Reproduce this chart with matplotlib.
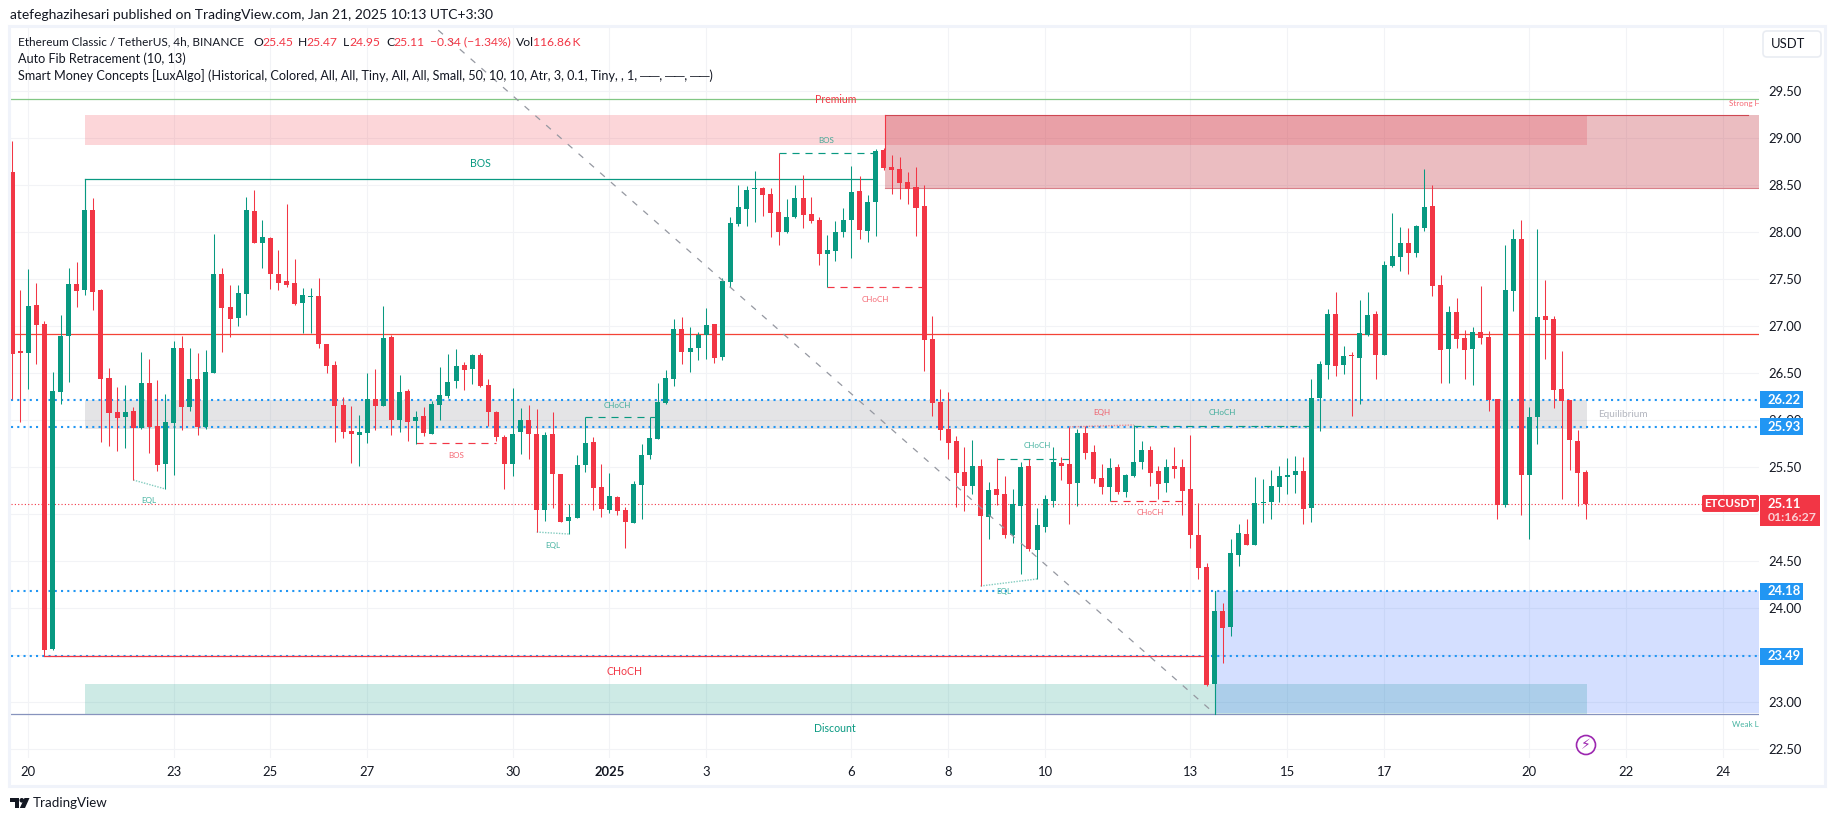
import matplotlib
matplotlib.use("Agg")
import matplotlib.pyplot as plt
from matplotlib.patches import Rectangle, FancyBboxPatch, Circle, Polygon
import numpy as np

plt.rcParams['font.family'] = ['Lato', 'DejaVu Sans']

GREEN = '#089981'
RED = '#F23645'
BLUE = '#2196F3'
INK = '#131722'

# 4h candles, first one is two bars before the "20" tick
first_bar = -2
opens = [
    28.64,26.74,26.72,27.23,27.02,23.57,26.30,26.90,27.45,27.39,
    28.24,27.39,26.45,26.09,26.04,26.10,25.92,26.40,25.94,25.54,
    25.97,26.77,26.14,26.44,25.93,26.50,27.56,27.21,27.09,27.34,
    28.23,27.89,27.94,27.56,27.48,27.46,27.25,27.31,27.32,26.81,
    26.59,26.16,25.89,25.84,25.87,26.23,26.15,26.89,26.00,26.31,
    25.99,26.05,25.85,26.16,26.26,26.42,26.59,26.55,26.69,26.38,
    26.09,25.82,25.54,25.88,26.00,25.85,25.05,25.85,25.43,24.93,
    24.96,25.52,25.77,25.29,25.05,25.18,25.05,24.91,25.31,25.63,
    25.80,26.18,26.44,26.97,26.73,26.77,26.91,27.02,26.67,27.47,
    28.09,28.25,28.46,28.47,28.41,28.22,28.00,28.16,28.37,28.19,
    28.13,27.77,27.80,28.00,28.13,28.44,28.01,28.32,28.88,28.69,
    28.67,28.54,28.48,28.28,26.87,26.19,25.91,25.78,25.45,25.30,
    25.51,24.97,25.27,25.22,24.78,25.09,25.51,24.62,24.87,25.14,
    25.55,25.53,25.33,25.87,25.66,25.39,25.29,25.50,25.24,25.41,
    25.56,25.68,25.46,25.33,25.51,25.50,25.27,24.78,24.44,23.20,
    23.97,23.80,24.57,24.79,24.67,25.12,25.13,25.29,25.40,25.42,
    25.46,25.07,26.24,26.59,27.13,26.59,26.70,26.66,26.91,27.13,
    26.70,27.64,27.74,27.89,27.78,28.05,28.28,27.44,26.76,27.15,
    26.88,26.76,26.94,26.89,26.23,25.10,27.38,27.93,25.42,26.03,
    27.11,27.08,26.33,26.22,25.78,25.45]
highs = [
    28.97,27.39,27.61,27.46,27.06,26.51,27.12,27.62,27.68,28.56,
    28.37,27.40,26.56,26.35,26.38,26.14,26.73,26.65,26.43,26.28,
    26.84,26.90,26.77,26.72,26.75,27.98,27.62,27.44,27.44,28.38,
    28.45,28.13,27.95,27.81,28.30,27.72,27.41,27.41,27.51,26.81,
    26.63,26.25,26.15,26.06,26.50,26.55,27.22,26.91,26.48,26.33,
    26.10,26.14,26.21,26.57,26.71,26.76,26.62,26.71,26.72,26.44,
    26.10,25.84,26.34,26.13,26.16,26.12,25.88,26.09,25.43,25.11,
    25.63,26.04,25.82,25.54,25.44,25.19,25.08,25.35,25.75,26.04,
    26.40,26.54,27.08,27.10,26.99,26.94,27.19,27.02,27.51,28.16,
    28.50,28.49,28.65,28.48,28.47,28.84,28.35,28.50,28.61,28.38,
    28.16,27.97,28.12,28.26,28.71,28.60,28.40,28.89,28.90,28.82,
    28.80,28.64,28.69,28.50,27.11,26.33,26.30,25.83,25.72,25.79,
    25.59,25.34,25.60,25.41,25.27,25.56,25.59,25.07,25.21,25.72,
    25.61,25.93,25.91,25.94,25.74,25.54,25.60,25.54,25.43,25.95,
    25.78,25.73,25.51,25.59,25.72,25.59,25.84,25.12,24.48,24.17,
    24.06,24.74,24.90,24.95,25.40,25.38,25.47,25.51,25.60,25.62,
    25.61,26.44,26.63,27.18,27.36,26.79,26.73,27.28,27.36,27.16,
    27.70,28.21,28.06,28.05,28.08,28.67,28.50,27.55,27.22,27.30,
    26.96,26.99,27.43,26.95,26.23,27.87,28.04,28.13,26.14,28.03,
    27.49,27.11,26.74,26.22,25.90,25.47]
lows = [
    26.23,25.98,26.33,26.60,23.49,23.56,26.17,26.41,27.21,27.33,
    27.17,25.77,25.73,25.67,25.71,25.37,25.91,25.65,25.46,25.27,
    25.42,25.90,26.10,25.84,25.91,26.50,26.73,26.89,27.00,27.12,
    27.89,27.62,27.40,27.39,27.42,27.23,26.93,26.93,26.77,26.50,
    25.77,25.81,25.55,25.51,25.76,25.90,26.15,25.84,25.88,25.78,
    25.75,25.83,25.85,26.00,26.24,26.34,26.32,26.39,26.35,25.94,
    25.78,25.27,25.41,25.64,25.59,24.81,24.93,25.07,24.92,24.79,
    24.96,25.45,25.05,24.97,25.01,24.99,24.64,24.91,24.95,25.59,
    25.80,26.17,26.37,26.60,26.51,26.64,26.65,26.61,26.64,27.42,
    28.07,28.07,28.11,28.17,27.95,27.87,27.99,28.15,28.05,28.10,
    27.65,27.42,27.69,27.95,27.73,27.93,27.90,27.96,28.66,28.41,
    28.35,28.30,27.96,26.52,26.05,25.79,25.59,25.08,25.04,25.22,
    24.24,24.74,25.10,24.75,24.70,24.36,24.61,24.31,24.81,25.08,
    25.37,24.90,25.09,25.59,25.33,25.22,25.14,25.22,25.18,25.40,
    25.48,25.30,25.16,25.24,25.39,24.99,24.64,24.31,23.17,22.88,
    23.42,23.71,24.45,24.67,24.67,24.91,24.95,25.13,25.22,25.23,
    24.90,24.92,25.89,26.44,26.47,26.49,26.05,26.17,26.90,26.44,
    26.70,27.63,27.59,27.56,27.74,28.01,27.32,26.40,26.40,26.77,
    26.44,26.38,26.81,26.10,24.95,25.08,27.16,24.99,24.74,25.75,
    26.65,26.13,25.16,25.47,25.09,24.95]
closes = [
    26.71,26.72,27.22,27.01,23.56,26.31,26.90,27.45,27.38,28.24,
    27.37,26.44,26.08,26.02,26.09,25.92,26.40,25.93,25.52,25.98,
    26.77,26.14,26.44,25.93,26.51,27.56,27.19,27.08,27.35,28.24,
    27.89,27.95,27.56,27.46,27.44,27.24,27.33,27.32,26.81,26.58,
    26.15,25.88,25.85,25.88,26.23,26.15,26.88,26.00,26.30,25.98,
    26.04,25.87,26.17,26.27,26.41,26.58,26.54,26.69,26.37,26.09,
    25.82,25.54,25.85,26.00,25.85,25.05,25.84,25.43,24.92,24.97,
    25.52,25.76,25.28,25.06,25.19,25.04,24.92,25.32,25.63,25.81,
    26.19,26.45,26.97,26.73,26.77,26.91,27.01,26.66,27.48,28.10,
    28.27,28.45,28.47,28.40,28.21,28.00,28.16,28.37,28.18,28.12,
    27.77,27.81,28.00,28.13,28.43,28.02,28.32,28.87,28.68,28.66,
    28.52,28.46,28.26,26.85,26.18,25.90,25.76,25.44,25.30,25.51,
    24.98,25.26,25.21,24.78,25.11,25.50,24.63,24.89,25.16,25.56,
    25.51,25.32,25.86,25.65,25.38,25.29,25.49,25.24,25.42,25.56,
    25.68,25.44,25.32,25.50,25.48,25.25,24.78,24.43,23.18,23.97,
    23.79,24.59,24.80,24.67,25.12,25.13,25.30,25.41,25.42,25.46,
    25.06,26.24,26.60,27.13,26.58,26.68,26.68,26.93,27.12,26.70,
    27.65,27.75,27.89,27.78,28.07,28.27,27.43,26.75,27.15,26.87,
    26.75,26.94,26.88,26.22,25.10,27.39,27.93,25.42,26.04,27.10,
    27.07,26.32,26.21,25.79,25.44,25.11]

# time axis: bar index of each labelled day
day_bars = [0, 18, 30, 42, 60, 72, 84, 102, 114, 126, 144, 156, 168, 186, 198, 210]
day_labels = ['20', '23', '25', '27', '30', '2025', '3', '6', '8', '10', '13', '15', '17', '20', '22', '24']
price_ticks = [22.5, 23, 23.5, 24, 24.5, 25, 25.5, 26, 26.5, 27, 27.5, 28, 28.5, 29, 29.5]

# levels
fib_levels = [26.22, 25.93, 24.18, 23.49]
last_price = 25.11
red_level = 26.915
premium_level = 29.415
weak_low = 22.876
bos_level = 28.563
choch_level = 23.49

# zones: bar from, bar to, price top, price bottom
premium_zone = (7, 193.1, 29.25, 28.93)
equilibrium_zone = (7, 193.1, 26.22, 25.91)
discount_zone = (7, 193.1, 23.20, 22.876)
supply_box = (106.1, 215, 29.25, 28.475)
demand_box = (147.06, 215, 24.18, 22.89)

# structure breaks: bar from, bar to, price, colour
dashed_breaks = [
    (93, 105, 28.84, GREEN),
    (99, 111, 27.414, RED),
    (69, 78, 26.03, GREEN),
    (48, 58, 25.755, RED),
    (120, 130, 25.592, GREEN),
    (137, 159, 25.943, GREEN),
    (134, 143, 25.138, RED),
]
# equal highs/lows: two bars, two prices, colour
dotted_pairs = [
    ((13, 17), (25.365, 25.269), GREEN),
    ((63, 67), (24.811, 24.790), GREEN),
    ((118, 125), (24.237, 24.312), GREEN),
    ((129, 137), (25.93, 25.95), RED),
]
# label, bar, price, colour
small_labels = [
    ('BOS', 98.9, 28.978, GREEN),
    ('CHoCH', 105, 27.287, RED),
    ('CHoCH', 73, 26.159, GREEN),
    ('BOS', 53, 25.627, RED),
    ('EQL', 14.9, 25.148, GREEN),
    ('EQL', 65, 24.666, GREEN),
    ('EQL', 120.9, 24.177, GREEN),
    ('CHoCH', 125, 25.73, GREEN),
    ('EQH', 133, 26.08, RED),
    ('CHoCH', 148, 26.08, GREEN),
    ('CHoCH', 139, 25.02, RED),
]
big_labels = [
    ('BOS', 56, 28.737, GREEN),
    ('CHoCH', 73.9, 23.325, RED),
    ('Premium', 100, 29.41, RED),
    ('Discount', 99.9, 22.72, GREEN),
]

# pixel layout of the screenshot
W, H = 1835, 821
left, right, top, bottom = 10.5, 1759, 28, 758
bar_px = 8.07
x0_px = 28.3
px_per_unit = 94.0
y27_px = 326.3


def price_y(p):
    return y27_px + (27 - p) * px_per_unit


fig = plt.figure(figsize=(W / 100, H / 100), dpi=100, facecolor='white')
ax = fig.add_axes([left / W, 1 - bottom / H, (right - left) / W, (bottom - top) / H])
ax.set_xlim((left - x0_px) / bar_px, (right - x0_px) / bar_px)
ax.set_ylim(27 - (bottom - y27_px) / px_per_unit, 27 + (y27_px - top) / px_per_unit)
for s in ax.spines.values():
    s.set_visible(False)

ax.set_axisbelow(True)
ax.grid(True, color='#F2F3F6', lw=0.8)
ax.set_xticks(day_bars)
ax.set_xticklabels(day_labels, fontsize=9.4, color=INK)
ax.get_xticklabels()[5].set_fontweight('bold')
ax.set_yticks(price_ticks)
ax.set_yticklabels(['%.2f' % p for p in price_ticks], fontsize=9.4, color=INK)
ax.yaxis.tick_right()
ax.tick_params(axis='both', length=0)
ax.tick_params(axis='y', pad=6.5)
ax.tick_params(axis='x', pad=5.5)

# zones
def zone(box, color, alpha):
    ax.add_patch(Rectangle((box[0], box[3]), box[1] - box[0], box[2] - box[3],
                           fc=color, alpha=alpha, lw=0, zorder=1))

zone(premium_zone, RED, 0.2)
zone(equilibrium_zone, '#787B86', 0.2)
zone(discount_zone, GREEN, 0.2)
zone(supply_box, '#C02634', 0.3)
zone(demand_box, '#2962FF', 0.2)
ax.plot([supply_box[0], 213.1], [supply_box[2]] * 2, color='#CE4752', lw=0.8, zorder=1.5)
ax.plot([supply_box[0], supply_box[1]], [supply_box[3]] * 2, color='#D9808A', lw=0.8, zorder=1.5)
ax.plot([supply_box[0]] * 2, [28.88, supply_box[2]], color=RED, lw=0.8, zorder=2)
ax.plot([demand_box[0]] * 2, [22.876, 24.18], color=GREEN, lw=0.8, zorder=2)

xmin, xmax = ax.get_xlim()
ax.plot([xmin, xmax], [premium_level] * 2, color='#81C784', lw=0.9, zorder=1.5)
ax.plot([xmin, xmax], [weak_low] * 2, color='#8793BD', lw=0.9, zorder=1.5)
ax.plot([xmin, xmax], [red_level] * 2, color='#F44336', lw=0.9, zorder=1.5)
ax.plot([7, 105], [bos_level] * 2, color=GREEN, lw=0.9, zorder=1.5)
ax.plot([2, 146], [choch_level] * 2, color=RED, lw=0.9, zorder=2.2)
ax.plot([7, 7], [28.24, bos_level], color=GREEN, lw=0.8, zorder=2)

for lvl in fib_levels:
    ax.plot([xmin, xmax], [lvl] * 2, color=BLUE, lw=1.5, ls=(0, (1.0, 2.0)), zorder=2)
ax.plot([xmin, xmax], [last_price] * 2, color=RED, lw=0.8, ls=(0, (1, 2)), zorder=2)

# fib trend line
ax.plot([50.8, 147.06], [30.15, 22.876], color='#9598A1', lw=0.9, ls=(0, (5, 6.5)), zorder=3.5)

for b0, b1, p, c in dashed_breaks:
    ax.plot([b0, b1], [p, p], color=c, lw=0.85, ls=(0, (6, 5)), zorder=2.5)
for (b0, b1), (p0, p1), c in dotted_pairs:
    ax.plot([b0, b1], [p0, p1], color=c, lw=1.0, ls=(0, (1, 1)), alpha=0.5, zorder=2.5)

# candles
x = np.arange(first_bar, first_bar + len(opens))
o, h, l, c = map(np.array, (opens, highs, lows, closes))
colors = np.where(c >= o, GREEN, RED)
ax.vlines(x, l, h, colors=colors, lw=0.75, zorder=3)
ax.bar(x, np.abs(c - o), bottom=np.minimum(o, c), width=0.62, color=colors, lw=0, zorder=3)

for txt, bx, p, col in small_labels:
    ax.text(bx, p, txt, color=col, alpha=0.75, fontsize=5.8, ha='center', va='center', zorder=4)
for txt, bx, p, col in big_labels:
    ax.text(bx, p, txt, color=col, fontsize=7.6, ha='center', va='center', zorder=4)
ax.text(197.6, 26.06, 'Equilibrium', color='#B2B5BE', fontsize=7.2, ha='center', va='center', zorder=4)
ax.text(210.7, 29.372, 'Strong High', color=RED, alpha=0.75, fontsize=5.8, ha='left', va='center',
        clip_on=True, zorder=4)
ax.text(211.1, 22.76, 'Weak Low', color=GREEN, alpha=0.75, fontsize=5.8, ha='left', va='center',
        clip_on=True, zorder=4)

# screenshot furniture drawn in pixels on top
ov = fig.add_axes([0, 0, 1, 1], facecolor='none')
ov.set_xlim(0, W)
ov.set_ylim(H, 0)
ov.axis('off')

ov.add_patch(Rectangle((9, 26), 1816, 760, fc='none', ec='#F0F3FA', lw=2.2))

ov.text(10, 15, 'atefeghazihesari published on TradingView.com, Jan 21, 2025 10:13 UTC+3:30',
        fontsize=10, color=INK, va='center')

legend_size = 9.05
ty = 42
ov.text(18, ty, 'Ethereum Classic / TetherUS, 4h, BINANCE', fontsize=8.5, color=INK, va='center')
legend_parts = [
    ('O', 253, INK), ('25.45', 262, RED), ('H', 298, INK), ('25.47', 306, RED),
    ('L', 343, INK), ('24.95', 349, RED), ('C', 386, INK), ('25.11', 393, RED),
    ('\u22120.34 (\u22121.34%)', 430, RED), ('Vol', 516, INK), ('116.86\u2009K', 533, RED),
]
for txt, px, col in legend_parts:
    ov.text(px, ty, txt, fontsize=8.7, color=col, va='center')
ov.text(18, 59, 'Auto Fib Retracement (10, 13)', fontsize=legend_size, color=INK, va='center')
ov.text(18, 76, 'Smart Money Concepts [LuxAlgo] (Historical, Colored, All, All, Tiny, All, All, '
        'Small, 50, 10, 10, Atr, 3, 0.1, Tiny, , 1, \u2500\u2500, \u2500\u2500, \u2500\u2500)',
        fontsize=legend_size, color=INK, va='center')

ov.add_patch(FancyBboxPatch((1765, 33), 54, 22, boxstyle='round,pad=2,rounding_size=4',
                            fc='white', ec='#E9ECF2', lw=1.2))
ov.text(1771, 44.5, 'USDT', fontsize=9.4, color=INK, va='center')

for lvl in fib_levels:
    yy = price_y(lvl)
    ov.add_patch(Rectangle((1760, yy - 8.5), 43, 17, fc=BLUE, lw=0))
    ov.text(1768, yy, '%.2f' % lvl, fontsize=9.4, color='white', va='center', fontweight='bold')

yy = price_y(last_price)
ov.add_patch(Rectangle((1760, yy - 9), 60, 31, fc=RED, lw=0))
ov.text(1768, yy + 0.5, '%.2f' % last_price, fontsize=9.4, color='white', va='center', fontweight='bold')
ov.text(1768, yy + 14, '01:16:27', fontsize=8.8, color='#FBD0D5', va='center', fontweight='bold')
ov.add_patch(FancyBboxPatch((1703, yy - 8), 55, 15, boxstyle='round,pad=1,rounding_size=2', fc=RED, lw=0))
ov.text(1730.5, yy, 'ETCUSDT', fontsize=8.4, color='white', va='center', ha='center', fontweight='bold')

# lightning badge
ov.add_patch(Circle((1586, 745), 9.5, fc='white', ec='#9C27B0', lw=1.2))
ov.text(1586, 745, '\u26a1', color='#9C27B0', fontsize=10, ha='center', va='center',
        family='DejaVu Sans')

# TradingView logo
ov.add_patch(Polygon([(10, 798), (19, 798), (19, 808), (14.5, 808), (14.5, 802.5), (10, 802.5)],
                     fc=INK, lw=0))
ov.add_patch(Circle((21.8, 800.3), 2.3, fc=INK, lw=0))
ov.add_patch(Polygon([(24.5, 798), (29.5, 798), (25, 808), (19.8, 808)], fc=INK, lw=0))
ov.text(33, 803, 'TradingView', fontsize=9.6, color=INK, va='center')

fig.savefig('out.png', dpi=100)
